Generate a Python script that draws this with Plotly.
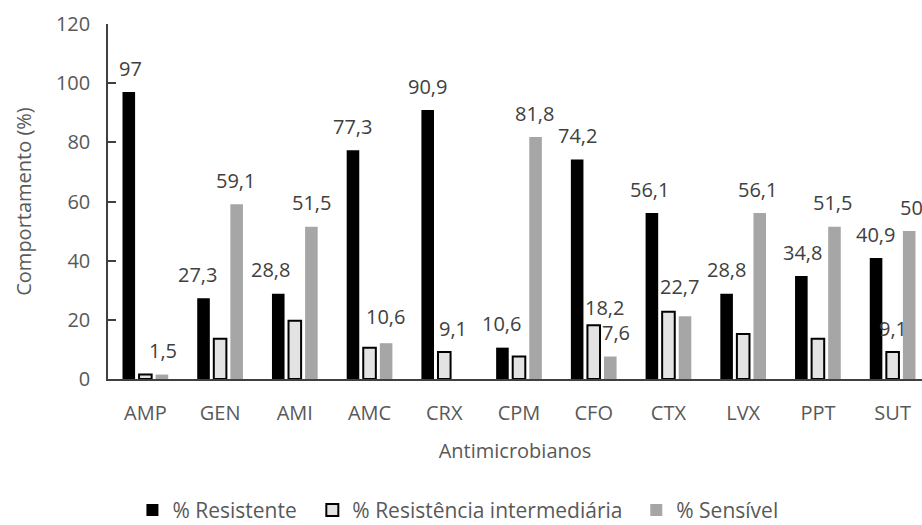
import plotly.graph_objects as go

categorias = ["AMP", "GEN", "AMI", "AMC", "CRX", "CPM", "CFO", "CTX", "LVX", "PPT", "SUT"]
resistente = [97, 27.3, 28.8, 77.3, 90.9, 10.6, 74.2, 56.1, 28.8, 34.8, 40.9]
intermediaria = [1.5, 13.6, 19.7, 10.6, 9.1, 7.6, 18.2, 22.7, 15.2, 13.6, 9.1]
sensivel = [1.5, 59.1, 51.5, 12.1, 0, 81.8, 7.6, 21.2, 56.1, 51.5, 50]

# which bars carry a data label (True) in each series
rotulo_resistente = [True] * 11
rotulo_intermediaria = [False, False, False, True, True, False, True, True, False, False, True]
rotulo_sensivel = [True, True, True, False, False, True, True, False, True, True, True]

# fine placement of the data labels (pixels)
dx_resistente = [2, -6, -8, 0, 0, -1, 0, -2, 0, 1, -1]
dx_intermediaria = [0, 0, 0, 16, 9, 0, 11, 11, 0, 0, 0]
dx_sensivel = [1, -1, 0, 0, 0, -1, 6, 0, -2, -2, 2]
dy_intermediaria = [24, 24, 24, 31, 24, 24, 18, 25, 24, 24, 24]

nomes = ["% Resistente", "% Resistência intermediária", "% Sensível"]
FONTE = "Open Sans"
CINZA_TEXTO = "#595959"

fig = go.Figure()
fig.add_bar(name=nomes[0], x=categorias, y=resistente, legend="legend",
            marker=dict(color="#000000", line=dict(width=0)))
fig.add_bar(name=nomes[1], x=categorias, y=intermediaria, legend="legend2",
            marker=dict(color="#e3e3e3", line=dict(color="#000000", width=2)))
fig.add_bar(name=nomes[2], x=categorias, y=sensivel, legend="legend3",
            marker=dict(color="#a6a6a6", line=dict(width=0)))


def fmt(v):
    s = f"{v:g}"
    return s.replace(".", ",")


# data labels: x offset from the bar's slot inside its group
slot = 16.6
series = [
    (resistente, rotulo_resistente, dx_resistente, [24] * 11, -slot),
    (intermediaria, rotulo_intermediaria, dx_intermediaria, dy_intermediaria, 0),
    (sensivel, rotulo_sensivel, dx_sensivel, [24] * 11, slot),
]
anots = []
for valores, mostra, dxs, dys, desloc in series:
    for i, (cat, v) in enumerate(zip(categorias, valores)):
        if not mostra[i]:
            continue
        anots.append(dict(
            x=cat, y=v, xref="x", yref="y", text=fmt(v), showarrow=False,
            xanchor="center", yanchor="middle",
            xshift=desloc + dxs[i], yshift=dys[i],
            font=dict(family=FONTE, size=20, color="#404040"),
        ))


def legenda(x):
    return dict(orientation="h", x=x, xanchor="left", y=-0.312, yanchor="top",
                font=dict(family=FONTE, size=21, color=CINZA_TEXTO),
                itemwidth=30, bgcolor="rgba(0,0,0,0)")


fig.update_layout(
    width=922, height=525,
    margin=dict(l=108, r=0, t=24, b=146, autoexpand=False),
    paper_bgcolor="white", plot_bgcolor="white",
    barmode="group", bargap=0.335, bargroupgap=0.24,
    font=dict(family=FONTE, color=CINZA_TEXTO),
    annotations=anots,
    showlegend=True,
    legend=legenda(0.030),
    legend2=legenda(0.251),
    legend3=legenda(0.649),
)
fig.update_xaxes(
    range=[-0.5, 10.393], showline=True, linecolor="#404040", linewidth=1.5,
    ticks="", tickfont=dict(family=FONTE, size=20, color=CINZA_TEXTO),
    ticklabelstandoff=15, showgrid=False, zeroline=False, automargin=False,
    title=dict(text="Antimicrobianos", font=dict(family=FONTE, size=20, color=CINZA_TEXTO),
               standoff=19),
)
fig.update_yaxes(
    range=[0, 120], dtick=20, showline=True, linecolor="#404040", linewidth=1.5,
    ticks="inside", ticklen=8, tickcolor="#404040", tickwidth=1.5,
    tickfont=dict(family=FONTE, size=20, color=CINZA_TEXTO),
    ticklabelstandoff=12, showgrid=False, zeroline=False, automargin=False,
    title=dict(text="Comportamento (%)", font=dict(family=FONTE, size=20, color=CINZA_TEXTO),
               standoff=19),
)

fig.write_html("out.html")
